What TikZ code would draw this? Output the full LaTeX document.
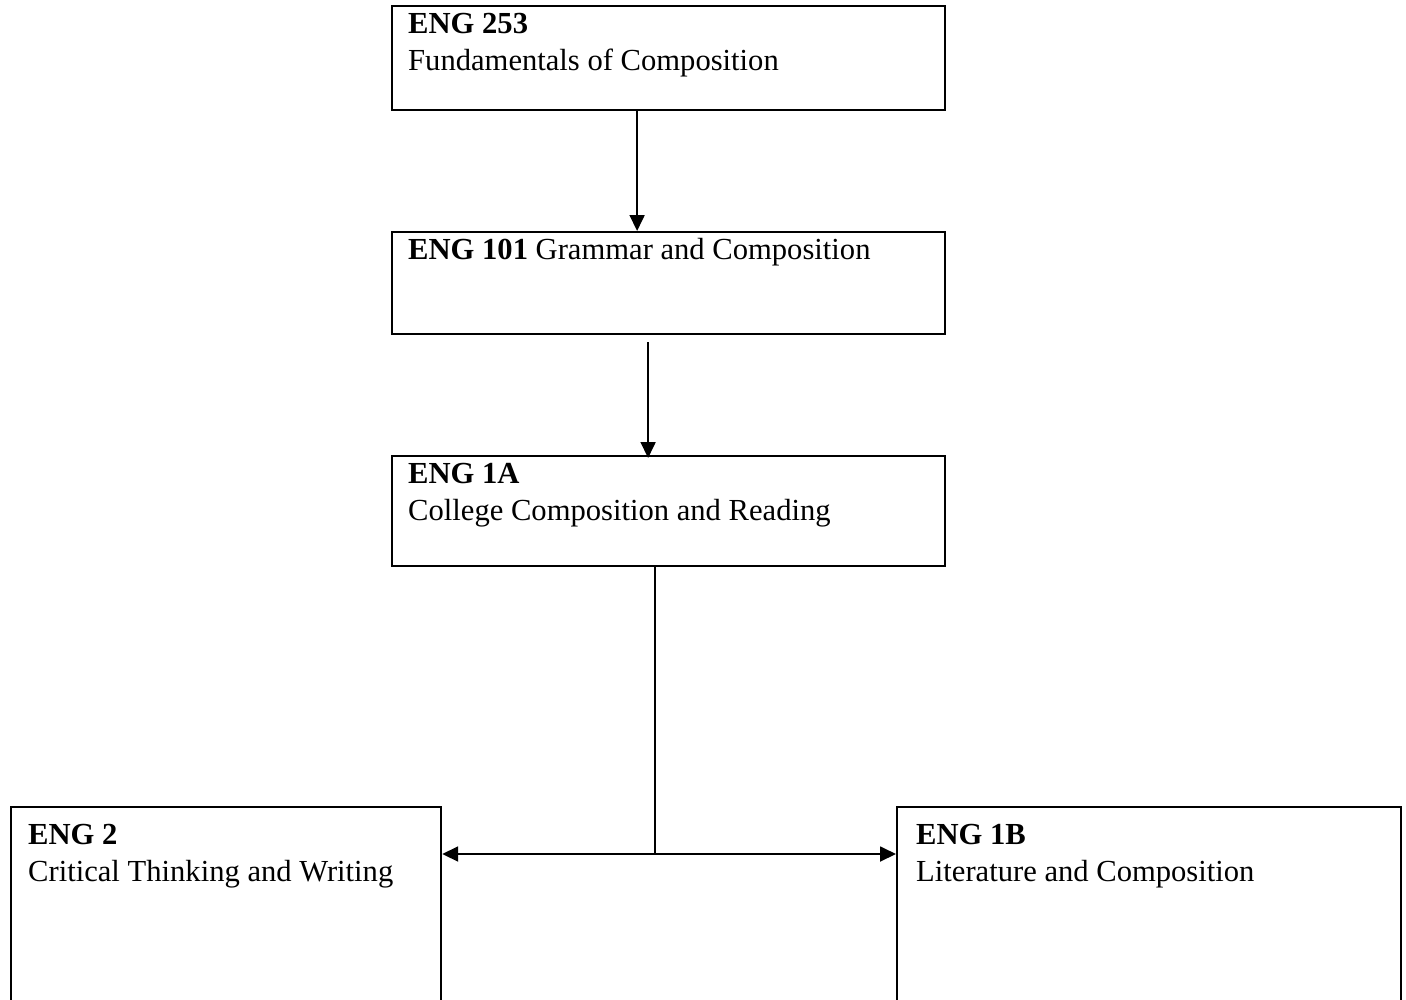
\documentclass[tikz,border=0pt]{standalone}
\usepackage{fontspec}
\setmainfont{Liberation Serif}
\usetikzlibrary{arrows.meta}
\begin{document}
\begin{tikzpicture}[x=1pt,y=-1pt,
  box/.style={draw=black,line width=2.2pt,rectangle,inner sep=0pt,anchor=north west},
  lbl/.style={anchor=base west,inner sep=0pt,font=\fontsize{30.6}{36}\selectfont},
  arr/.style={line width=1.8pt,-{Triangle[length=16pt,width=15pt]}},
  conn/.style={line width=1.8pt}]
\useasboundingbox (0,0) rectangle (1406,999);
\clip (0,0) rectangle (1406,999);
% boxes
\node[box,minimum width=553pt,minimum height=104pt] (b253) at (391,5) {};
\node[box,minimum width=553pt,minimum height=102pt] (b101) at (391,231) {};
\node[box,minimum width=553pt,minimum height=110pt] (b1a) at (391,455) {};
\node[box,minimum width=430pt,minimum height=260pt] (b2) at (10,806) {};
\node[box,minimum width=504pt,minimum height=260pt] (b1b) at (896,806) {};
% texts
\node[lbl] (t253a) at (408,33) {\textbf{ENG 253}};
\node[lbl] (t253b) at (408,70) {Fundamentals of Composition};
\node[lbl] (t101) at (408,259) {\textbf{ENG 101} Grammar and Composition};
\node[lbl] (t1aa) at (408,483) {\textbf{ENG 1A}};
\node[lbl] (t1ab) at (408,520) {College Composition and Reading};
\node[lbl] (t2a) at (28,844) {\textbf{ENG 2}};
\node[lbl] (t2b) at (28,881) {Critical Thinking and Writing};
\node[lbl] (t1ba) at (916,844) {\textbf{ENG 1B}};
\node[lbl] (t1bb) at (916,881) {Literature and Composition};
% connectors
\draw[arr] ([xshift=-31.5pt]b253.south) -- ([xshift=-31.5pt]b101.north);
\draw[arr] ([xshift=-20.5pt,yshift=-7pt]b101.south) -- ([xshift=-20.5pt,yshift=-3pt]b1a.north);
\coordinate (j) at (655,854);
\draw[conn] (b1a.south -| j) -- (j);
\draw[arr] (j) -- (b2.east |- j);
\draw[arr] (j) -- (b1b.west |- j);
\end{tikzpicture}
\end{document}
